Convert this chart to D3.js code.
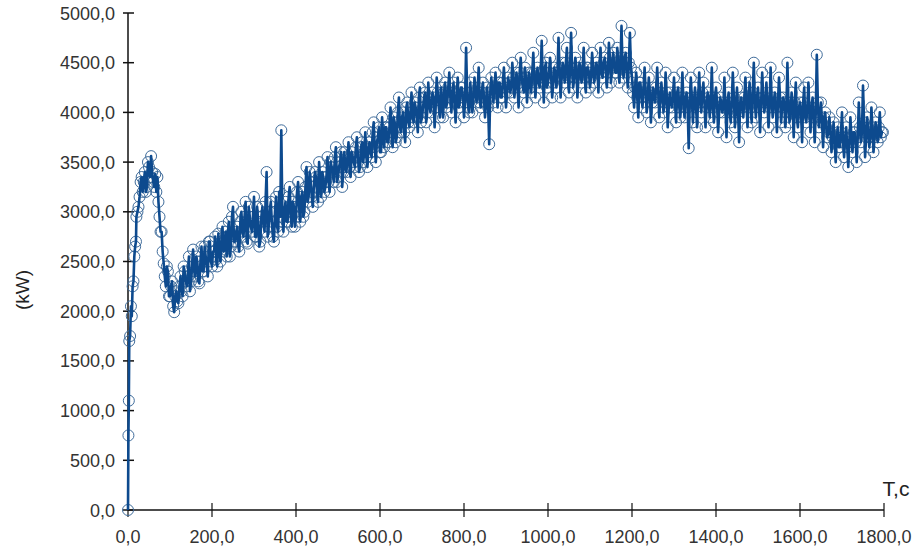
<!DOCTYPE html>
<html><head><meta charset="utf-8">
<script src="https://cdn.jsdelivr.net/npm/d3@7"></script>
<style>body{margin:0;background:#fff}svg{display:block}</style>
</head><body>
<script>
// Start-up samples (seconds, kW)
const startTimes = [0, 1, 2, 3, 5, 7, 9, 11, 13, 15, 17, 19];
const startValues = [0, 750, 1100, 1700, 1750, 2050, 1950, 2250, 2300, 2550, 2650, 2700];
// Samples from t = 20 s every 5 s (kW)
const regularStart = 20, regularStep = 5;
const regularValues = [
2950,3050,3300,3200,3400,3250,3450,3560,3300,3380,
3350,2950,2800,2480,2250,2400,2150,2300,1990,2200,
2080,2350,2150,2400,2250,2550,2300,2620,2350,2500,
2280,2650,2400,2550,2350,2700,2450,2600,2520,2780,
2500,2850,2620,2550,2900,2650,3050,2700,2850,2600,
3000,2750,3100,2680,2950,2800,3150,2750,2900,2700,
3050,2800,3400,2850,3100,2750,3000,2850,3200,3820,
2800,3100,2900,3250,2850,3050,2950,3300,2900,3200,
3000,3450,3150,3300,3050,3400,3200,3500,3150,3350,
3250,3550,3200,3450,3300,3650,3350,3500,3250,3600,
3400,3700,3350,3550,3450,3750,3400,3650,3500,3800,
3450,3700,3550,3900,3500,3750,3600,3950,3650,3850,
3700,4050,3650,3900,3750,4150,3800,4000,3700,4100,
3850,4200,3900,4050,3800,4250,3950,4150,3900,4300,
4000,4200,3850,4350,4050,4250,3950,4300,4100,4400,
4000,4300,3900,4350,4100,4250,3950,4650,4050,4300,
4000,4350,4100,4450,4050,4300,3950,4250,3680,4350,
4100,4400,4050,4300,4150,4450,4050,4350,4200,4500,
4150,4400,4050,4550,4250,4450,4100,4400,4200,4600,
4150,4450,4250,4720,4100,4500,4300,4550,4150,4450,
4250,4750,4150,4500,4300,4650,4200,4800,4250,4550,
4150,4500,4300,4650,4200,4450,4250,4600,4300,4500,
4200,4650,4350,4550,4250,4700,4300,4600,4400,4650,
4300,4870,4350,4600,4250,4800,4350,4050,4400,3950,
4300,4050,4450,4000,4350,3900,4250,4100,4450,3950,
4300,4000,4400,3850,4200,4050,4350,3900,4250,3950,
4400,3950,4200,3640,4350,3900,4250,3850,4400,4000,
4300,3850,4200,3950,4450,3900,4250,3800,4150,4000,
4350,3750,4200,3900,4400,3850,4250,3700,4150,3950,
4350,3850,4300,3900,4500,3950,4250,3800,4400,4000,
4300,3850,4450,3950,4200,3800,4350,3900,4150,3850,
4500,3900,4200,3750,4300,3850,4100,3700,4250,3900,
4300,3800,4150,3700,4580,3850,4100,3650,4000,3750,
3950,3600,3900,3500,3850,3650,4000,3550,3850,3450,
3950,3600,3800,3500,4100,3700,4270,3550,3950,3650,
4050,3600,3900,3700,4000,3800
];
// Samples in between, from t = 22.5 s every 5 s (kW)
const midStart = 22.5, midStep = 5;
const midValues = [
3000,3150,3350,3300,3200,3500,3350,3400,3250,3200,
3100,2800,2600,2350,2450,2150,2250,2050,2150,2100,
2250,2200,2450,2300,2350,2200,2450,2400,2550,2300,
2500,2400,2650,2450,2700,2500,2600,2750,2450,2650,
2700,2600,2800,2750,2550,2950,2700,2800,2650,2900,
2800,2950,2700,3050,2850,2950,2750,3050,2650,2950,
2900,3100,2750,3000,2900,2700,3150,2800,2950,3000,
3000,2900,3150,2950,3100,2850,3200,3050,3150,2950,
3250,3100,3400,3150,3250,3350,3100,3300,3400,3200,
3350,3300,3500,3400,3550,3300,3450,3600,3400,3450,
3550,3450,3600,3500,3650,3550,3450,3700,3600,3550,
3650,3600,3800,3650,3700,3850,3600,3750,3850,3700,
3850,3800,3950,3700,4000,3850,3950,3800,4050,3900,
4000,3950,4100,3950,4150,3900,4050,4200,4000,4100,
4100,4150,4050,4200,3950,4100,4200,4050,4250,4150,
4200,4100,4150,4050,4250,4150,4100,4200,4000,4150,
4150,4200,4250,4100,4200,4150,4100,4050,4200,4250,
4250,4200,4300,4150,4300,4250,4200,4300,4250,4350,
4300,4250,4400,4350,4200,4350,4300,4250,4400,4350,
4350,4300,4400,4350,4450,4250,4400,4350,4300,4400,
4400,4450,4350,4400,4500,4350,4450,4400,4350,4450,
4350,4400,4450,4350,4450,4400,4350,4450,4400,4450,
4450,4400,4500,4450,4400,4550,4450,4500,4400,4450,
4500,4450,4550,4400,4500,4450,4200,4250,4150,4300,
4150,4250,4200,4150,4200,4100,4150,4250,4200,4150,
4150,4100,4200,4050,4100,4150,4100,4200,4050,4150,
4100,4150,4050,4100,4150,4100,4050,4150,4100,4200,
4100,4050,4150,4100,4050,4150,4100,4000,4100,4050,
4050,4100,4000,4100,4150,4050,4000,4100,4050,4150,
4100,4150,4050,4200,4100,4150,4050,4100,4150,4100,
4100,4050,4150,4100,4050,4100,4150,4050,4100,4000,
4100,4000,4050,4100,3950,4050,4000,4100,3950,4050,
4000,4050,3950,4000,4100,3950,3900,3950,3850,3800,
3800,3750,3700,3750,3650,3800,3700,3750,3650,3700,
3750,3800,3700,3750,3850,3800,3900,3750,3800,3750,
3850,3750,3800,3850,3750,3800
];
const xTickValues = [0, 200, 400, 600, 800, 1000, 1200, 1400, 1600, 1800];
const yTickValues = [0, 500, 1000, 1500, 2000, 2500, 3000, 3500, 4000, 4500, 5000];
const yAxisLabel = "(kW)";
const xAxisLabel = "T,c";

const data = startTimes.map((t, i) => ({t, v: startValues[i]}))
  .concat(regularValues.map((v, i) => ({t: regularStart + i * regularStep, v})))
  .concat(midValues.map((v, i) => ({t: midStart + i * midStep, v})))
  .sort((a, b) => a.t - b.t);

const W = 915, H = 552;
const svg = d3.select("body").append("svg").attr("width", W).attr("height", H);
const x = d3.scaleLinear().domain([0, 1800]).range([128, 884]);
const y = d3.scaleLinear().domain([0, 5000]).range([510, 13]);
const fmt = d => d3.format(".1f")(d).replace(".", ",");
const font = "Liberation Sans, Arial, sans-serif";

// axes
const gx = svg.append("g").attr("transform", "translate(0,510)");
gx.append("line").attr("x1", 128).attr("x2", 884).attr("stroke", "#111").attr("stroke-width", 1.5);
gx.selectAll("line.tick").data(xTickValues).join("line").attr("class", "tick")
  .attr("x1", d => x(d)).attr("x2", d => x(d)).attr("y1", -7).attr("y2", 7)
  .attr("stroke", "#111").attr("stroke-width", 1.2);
gx.selectAll("text").data(xTickValues).join("text")
  .attr("x", d => x(d)).attr("y", 33).attr("text-anchor", "middle")
  .attr("font-family", font).attr("font-size", 18)
  .attr("fill", "#333").text(fmt);

const gy = svg.append("g");
gy.append("line").attr("x1", 128).attr("x2", 128).attr("y1", 13).attr("y2", 510)
  .attr("stroke", "#111").attr("stroke-width", 1.5);
gy.selectAll("line.tick").data(yTickValues).join("line").attr("class", "tick")
  .attr("x1", 123).attr("x2", 134).attr("y1", d => y(d)).attr("y2", d => y(d))
  .attr("stroke", "#111").attr("stroke-width", 1.5);
gy.selectAll("text").data(yTickValues).join("text")
  .attr("x", 115).attr("y", d => y(d) + 6.5).attr("text-anchor", "end")
  .attr("font-family", font).attr("font-size", 18)
  .attr("fill", "#333").text(fmt);

svg.append("text").attr("transform", "translate(29,290) rotate(-90)")
  .attr("text-anchor", "middle").attr("font-family", font)
  .attr("font-size", 19).attr("fill", "#222").text(yAxisLabel);
svg.append("text").attr("x", 896).attr("y", 496).attr("text-anchor", "middle")
  .attr("font-family", font)
  .attr("font-size", 21).attr("fill", "#222").text(xAxisLabel);

// series
const line = d3.line().x(d => x(d.t)).y(d => y(d.v));
svg.append("g").selectAll("circle").data(data).join("circle")
  .attr("cx", d => x(d.t)).attr("cy", d => y(d.v)).attr("r", 5.5)
  .attr("fill", "none").attr("stroke", "#3f6c9b").attr("stroke-width", 1);
svg.append("path").datum(data).attr("d", line).attr("fill", "none")
  .attr("stroke", "#0d4a8e").attr("stroke-width", 2.6).attr("stroke-linejoin", "round");
</script>
</body></html>
